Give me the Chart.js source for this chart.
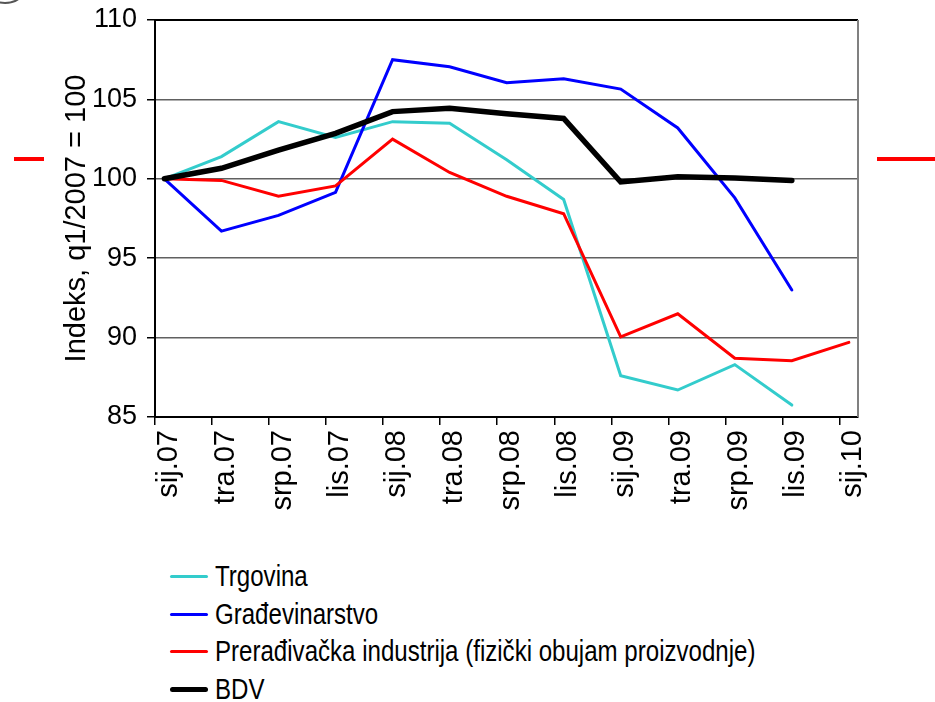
<!DOCTYPE html>
<html>
<head>
<meta charset="utf-8">
<script src="https://cdn.jsdelivr.net/npm/chart.js@4.4.1/dist/chart.umd.min.js"></script>
<style>
    html, body { margin: 0; padding: 0; background: #fff; }
    #wrap { position: relative; width: 935px; height: 702px; overflow: hidden; }
    #chartBox { position: absolute; left: 0; top: 0; width: 935px; height: 530px; }
    .mark { position: absolute; height: 4px; background: #ff0000; }
    #corner { position: absolute; left: -14px; top: -22px; width: 34px; height: 22px; border-radius: 50%; border: 2px solid #555; }
    #legend { position: absolute; left: 170px; top: 558px; font-family: 'Liberation Sans Narrow', 'Arial Narrow', 'Liberation Sans', sans-serif; font-size: 29px; color: #000; }
    .leg-item { display: flex; align-items: center; height: 37.5px; white-space: nowrap; }
    .leg-line { width: 38px; margin-right: 7px; border-radius: 3px; flex: none; }
    .leg-text { display: inline-block; transform: scaleX(0.83); transform-origin: left center; }
</style>
</head>
<body>
<div id="wrap">
    <div id="chartBox"><canvas id="chart"></canvas></div>
    <div id="corner"></div>
    <div class="mark" style="left:14px; top:157px; width:30px;"></div>
    <div class="mark" style="left:877px; top:157px; width:58px;"></div>
    <div id="legend"></div>
</div>
<script>
// Quarterly index values, q1/2007 = 100
const quarters = ['sij.07', 'tra.07', 'srp.07', 'lis.07', 'sij.08', 'tra.08', 'srp.08', 'lis.08', 'sij.09', 'tra.09', 'srp.09', 'lis.09', 'sij.10'];
const trgovina = [100, 101.4, 103.6, 102.6, 103.6, 103.5, 101.2, 98.7, 87.6, 86.7, 88.3, 85.75, null];
const gradevinarstvo = [100, 96.7, 97.7, 99.15, 107.5, 107.06, 106.05, 106.3, 105.65, 103.2, 98.8, 93.0, null];
const preradivacka = [100, 99.9, 98.9, 99.55, 102.5, 100.4, 98.9, 97.8, 90.05, 91.5, 88.7, 88.55, 89.7];
const bdv = [100, 100.66, 101.8, 102.86, 104.23, 104.44, 104.1, 103.8, 99.8, 100.13, 100.05, 99.9, null];
const yTicks = [85, 90, 95, 100, 105, 110];

const FONT = "'Liberation Sans Narrow', 'Arial Narrow', 'Liberation Sans', sans-serif";

function toPoints(values) {
    return values.map((v, i) => ({ x: i, y: v }));
}

const series = [
    { label: 'Trgovina', values: trgovina, color: '#33cccc', width: 3 },
    { label: 'Građevinarstvo', values: gradevinarstvo, color: '#0000ff', width: 3 },
    { label: 'Prerađivačka industrija (fizički obujam proizvodnje)', values: preradivacka, color: '#ff0000', width: 3 },
    { label: 'BDV', values: bdv, color: '#000000', width: 5.5 }
];

// frame: top and right edges of the plot area
const frame = {
    id: 'frame',
    afterDraw(chart) {
        const { ctx, chartArea: a } = chart;
        ctx.save();
        ctx.lineWidth = 2;
        ctx.strokeStyle = '#000';
        ctx.beginPath();
        ctx.moveTo(a.left, a.top);
        ctx.lineTo(a.right, a.top);
        ctx.stroke();
        ctx.strokeStyle = '#808080';
        ctx.beginPath();
        ctx.moveTo(a.right, a.top);
        ctx.lineTo(a.right, a.bottom);
        ctx.stroke();
        ctx.restore();
    }
};

const chart = new Chart(document.getElementById('chart'), {
    type: 'line',
    data: {
        datasets: series.map(s => ({
            label: s.label,
            data: toPoints(s.values),
            borderColor: s.color,
            backgroundColor: s.color,
            borderWidth: s.width,
            pointRadius: 0,
            tension: 0,
            borderCapStyle: 'round',
            spanGaps: false
        })).reverse()
    },
    options: {
        responsive: true,
        maintainAspectRatio: false,
        animation: false,
        layout: { padding: { top: 20, right: 77, left: 0, bottom: 0 } },
        plugins: {
            legend: { display: false },
            tooltip: { enabled: false }
        },
        scales: {
            x: {
                type: 'linear',
                min: -0.165,
                max: 12.16,
                afterFit: s => { s.height = 113; },
                afterBuildTicks: s => { s.ticks = quarters.map((_, i) => ({ value: i - 0.165 })); },
                ticks: {
                    callback: (v, i) => quarters[i],
                    minRotation: 90,
                    maxRotation: 90,
                    autoSkip: false,
                    labelOffset: 14,
                    padding: 5,
                    color: '#000',
                    font: { family: FONT, size: 29, lineHeight: 1 }
                },
                grid: { drawOnChartArea: false, drawTicks: true, tickLength: 8, tickColor: '#000', lineWidth: 1.5 },
                border: { display: true, color: '#000', width: 2 }
            },
            y: {
                min: 85,
                max: 110,
                afterFit: s => { s.width = 155; s.paddingTop = 0; s.paddingBottom = 0; },
                afterBuildTicks: s => { s.ticks = yTicks.map(v => ({ value: v })); },
                ticks: {
                    padding: 10,
                    color: '#000',
                    font: { family: FONT, size: 27, lineHeight: 1 }
                },
                grid: { color: '#606060', lineWidth: 1.5, tickLength: 8, tickColor: '#000' },
                border: { display: true, color: '#000', width: 2 },
                title: {
                    display: true,
                    text: 'Indeks, q1/2007 = 100',
                    color: '#000',
                    font: { family: FONT, size: 29 },
                    padding: { top: 60, bottom: 0 }
                }
            }
        }
    },
    plugins: [frame]
});

// legend built from the same series list, stacked like the original
const legendEl = document.getElementById('legend');
series.forEach(s => {
    const row = document.createElement('div');
    row.className = 'leg-item';
    const line = document.createElement('span');
    line.className = 'leg-line';
    line.style.height = s.width + 'px';
    line.style.background = s.color;
    const txt = document.createElement('span');
    txt.className = 'leg-text';
    txt.textContent = s.label;
    row.appendChild(line);
    row.appendChild(txt);
    legendEl.appendChild(row);
});
</script>
</body>
</html>
